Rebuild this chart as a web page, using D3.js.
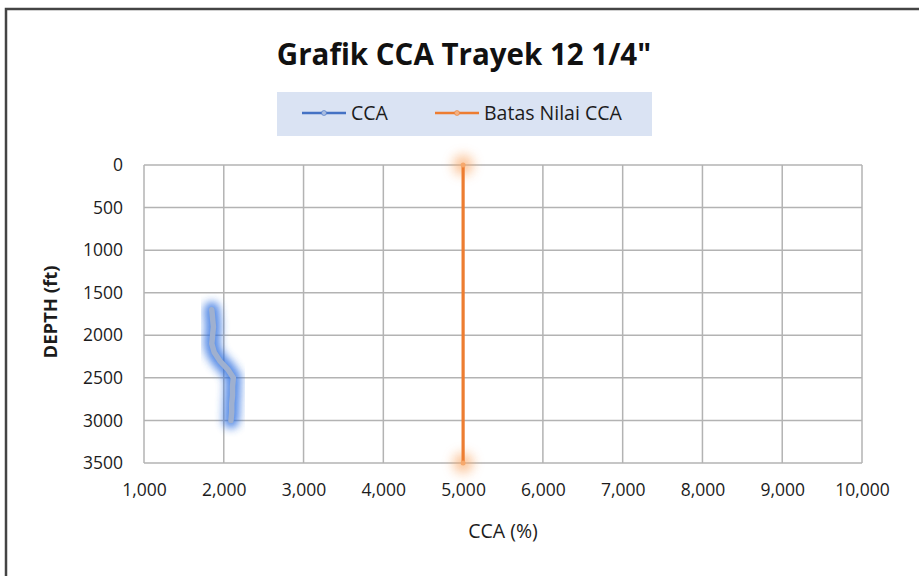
<!DOCTYPE html>
<html><head><meta charset="utf-8">
<script src="https://cdn.jsdelivr.net/npm/d3@7"></script>
<style>body{margin:0;background:#fff}svg{display:block}</style>
</head><body>
<svg id="c" width="919" height="576"></svg>
<script>
const cca = [1850, 1860, 1870, 1860, 1850, 1880, 1950, 2050, 2120, 2110, 2110, 2100, 2100, 2090];
const ccaDepth = [1700, 1800, 1900, 2000, 2100, 2200, 2300, 2400, 2500, 2600, 2700, 2800, 2900, 3000];
const limitValue = [5000, 5000];
const limitDepth = [0, 3500];
const xTicks = [1000, 2000, 3000, 4000, 5000, 6000, 7000, 8000, 9000, 10000];
const yTicks = [0, 500, 1000, 1500, 2000, 2500, 3000, 3500];
const seriesNames = ["CCA", "Batas Nilai CCA"];
const titleText = 'Grafik CCA Trayek 12 1/4"';

const svg = d3.select("#c");
const font = "'Open Sans', sans-serif";
const txt = "#1c1c1c";
const m = {l:144, t:165, r:862, b:463};
const x = d3.scaleLinear().domain([1000, 10000]).range([m.l, m.r]);
const y = d3.scaleLinear().domain([0, 3500]).range([m.t, m.b]);

const defs = svg.append("defs");
defs.append("filter").attr("id","glow").attr("x","-50%").attr("y","-50%").attr("width","200%").attr("height","200%")
  .append("feGaussianBlur").attr("stdDeviation", 4.5);
defs.append("filter").attr("id","glow2").attr("x","-100%").attr("y","-100%").attr("width","300%").attr("height","300%")
  .append("feGaussianBlur").attr("stdDeviation", 6);

// chart border
svg.append("path").attr("d","M6,577 L6,9 L920,9").attr("fill","none").attr("stroke","#444").attr("stroke-width",2.5);

// title
svg.append("text").attr("x", 464).attr("y", 65).attr("text-anchor","middle")
  .attr("font-family", font).attr("font-weight","bold").attr("font-size", 29.5).attr("fill","#111").text(titleText);

// legend
const lg = svg.append("g");
lg.append("rect").attr("x",277).attr("y",92).attr("width",375).attr("height",44).attr("fill","#dae3f3");
const legendColors = ["#4472c4", "#ed7d31"];
const legendX = [302, 435];
seriesNames.forEach((n,i)=>{
  const lx = legendX[i];
  lg.append("line").attr("x1",lx).attr("x2",lx+44).attr("y1",113).attr("y2",113).attr("stroke",legendColors[i]).attr("stroke-width",2.5);
  lg.append("circle").attr("cx",lx+22).attr("cy",113).attr("r",2.5).attr("fill", i===0?"#a9bde0":"#f4b183").attr("stroke",legendColors[i]).attr("stroke-width",0.6);
  lg.append("text").attr("x",lx+49).attr("y",120).attr("font-family",font).attr("font-size",19.5).attr("fill",txt).text(n);
});

// gridlines
const g = svg.append("g");
g.selectAll(".vx").data(xTicks).join("line").attr("x1",d=>x(d)).attr("x2",d=>x(d)).attr("y1",m.t).attr("y2",m.b)
  .attr("stroke","#b3b3b3").attr("stroke-width",1.5);
g.selectAll(".hy").data(yTicks).join("line").attr("x1",m.l).attr("x2",m.r).attr("y1",d=>y(d)).attr("y2",d=>y(d))
  .attr("stroke","#b3b3b3").attr("stroke-width",1.5);

// axes labels
const fmt = d3.format(",");
const xAxis = svg.append("g").attr("transform",`translate(0,${m.b})`).call(d3.axisBottom(x).tickValues(xTicks).tickFormat(fmt).tickSize(0).tickPadding(21));
xAxis.select(".domain").remove();
xAxis.selectAll("text").attr("font-family",font).attr("font-size",17.5).attr("fill",txt);
const yAxis = svg.append("g").attr("transform",`translate(${m.l},0)`).call(d3.axisLeft(y).tickValues(yTicks).tickFormat(d3.format("d")).tickSize(0).tickPadding(21));
yAxis.select(".domain").remove();
yAxis.selectAll("text").attr("font-family",font).attr("font-size",17.5).attr("fill",txt);

svg.append("text").attr("x",503).attr("y",538).attr("text-anchor","middle").attr("font-family",font).attr("font-size",19.5).attr("fill",txt).text("CCA (%)");
svg.append("text").attr("transform","translate(57,312) rotate(-90)").attr("text-anchor","middle").attr("font-family",font).attr("font-weight","bold").attr("font-size",18.5).attr("fill",txt).text("DEPTH (ft)");

// series
const line = d3.line().x(d=>x(d[0])).y(d=>y(d[1])).curve(d3.curveLinear);
const ccaPts = cca.map((v,i)=>[v, ccaDepth[i]]);
const limPts = limitValue.map((v,i)=>[v, limitDepth[i]]);

// limit glow at endpoints
svg.selectAll(".lg").data(limPts).join("circle").attr("cx",d=>x(d[0])).attr("cy",d=>y(d[1])).attr("r",10)
  .attr("fill","#f9a868").attr("opacity",0.7).attr("filter","url(#glow2)");
svg.append("path").datum(limPts).attr("d",line).attr("fill","none").attr("stroke","#f9b27a").attr("stroke-width",10).attr("opacity",0.3).attr("filter","url(#glow)");
svg.append("path").datum(limPts).attr("d",line).attr("fill","none").attr("stroke","#ed7d31").attr("stroke-width",3.2);
svg.selectAll(".lm").data(limPts).join("circle").attr("cx",d=>x(d[0])).attr("cy",d=>y(d[1])).attr("r",2.5).attr("fill","#f6a86c");

// CCA glow
svg.append("path").datum(ccaPts).attr("d",line).attr("fill","none").attr("stroke","#2f6fe0").attr("stroke-width",16)
  .attr("stroke-linecap","round").attr("stroke-linejoin","round").attr("opacity",0.8).attr("filter","url(#glow)");
svg.append("path").datum(ccaPts).attr("d",line).attr("fill","none").attr("stroke","#9fb0cf").attr("stroke-width",5.5)
  .attr("stroke-linecap","round").attr("stroke-linejoin","round");
</script>
</body></html>
